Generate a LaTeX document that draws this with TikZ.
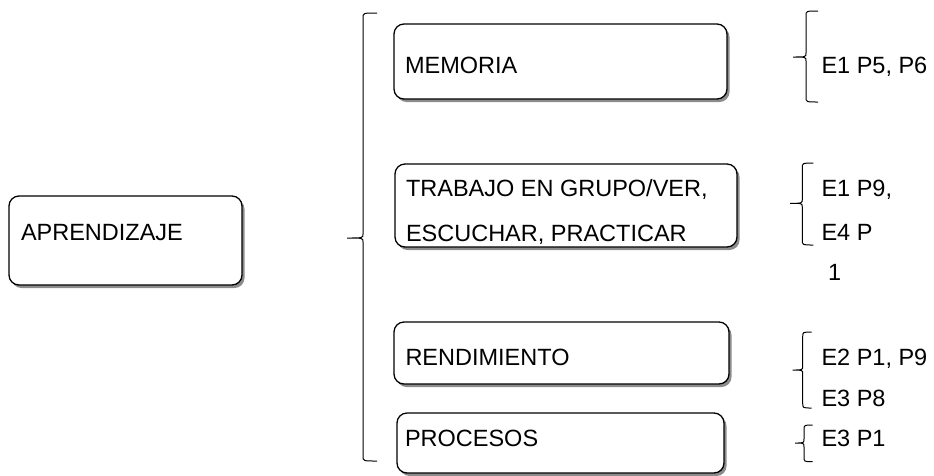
\documentclass[tikz,border=0pt]{standalone}
\usepackage{fontspec}
\setmainfont{Liberation Sans}
\usetikzlibrary{shadows}
\tikzset{
  box/.style={draw=black, line width=1.3pt, rounded corners=10pt, fill=white, inner sep=0pt,
    drop shadow={shadow xshift=2.5pt, shadow yshift=-3pt, fill=black!45, opacity=1}},
  txt/.style={anchor=base west, inner sep=0pt, outer sep=0pt, font=\fontsize{23.5}{28}\selectfont},
  brace/.style={draw=black, line width=1pt}
}
% #1 vertical x, #2 top y, #3 tip y, #4 bottom y, #5 tip x, #6 hook x
\newcommand\mybrace[6]{%
  \draw[brace] (#6,#2) .. controls (#1,#2) .. (#1,#2+5) -- (#1,#3-4)
     .. controls (#1,#3) .. (#5,#3)
     (#5,#3) .. controls (#1,#3) .. (#1,#3+4) -- (#1,#4-5)
     .. controls (#1,#4) .. (#6,#4);}
\begin{document}
\begin{tikzpicture}[x=1pt, y=-1pt]
\useasboundingbox (0,0) rectangle (934,475);
% boxes
\node[box, minimum width=233pt, minimum height=89pt] (apr) at (125.5,240.5) {};
\node[box, minimum width=333pt, minimum height=75pt] (mem) at (560.5,61.5) {};
\node[box, minimum width=342pt, minimum height=83pt] (tra) at (566,205.5) {};
\node[box, minimum width=335pt, minimum height=62pt] (ren) at (561.5,353) {};
\node[box, minimum width=327pt, minimum height=60pt] (pro) at (560.5,443) {};
% box texts
\node[txt] (aprt) at (21,240.5) {APRENDIZAJE};
\node[txt] (memt) at (405,73) {MEMORIA};
\node[txt] (trat1) at (406,196) {TRABAJO EN GRUPO/VER,};
\node[txt] (trat2) at (406,241) {ESCUCHAR, PRACTICAR};
\node[txt] (rent) at (405.5,365) {RENDIMIENTO};
\node[txt] (prot) at (405,446.7) {PROCESOS};
% right texts
\node[txt] (r1) at (821.5,73) {E1 P5, P6};
\node[txt] (r2a) at (821.5,196) {E1 P9,};
\node[txt] (r2b) at (821.5,240) {E4 P};
\node[txt] (r2c) at (828,280) {1};
\node[txt] (r3a) at (821.5,365) {E2 P1, P9};
\node[txt] (r3b) at (821.5,406.5) {E3 P8};
\node[txt] (r4) at (821.5,446.7) {E3 P1};
% braces
\mybrace{363}{13}{238}{461}{347}{377}
\mybrace{806}{11}{57}{102}{793}{818}
\mybrace{802.3}{163}{203.3}{245}{790}{813.3}
\mybrace{802.7}{332}{370}{408}{792.7}{811.7}
\mybrace{804}{425}{443}{461.7}{795}{812.7}
\end{tikzpicture}
\end{document}
